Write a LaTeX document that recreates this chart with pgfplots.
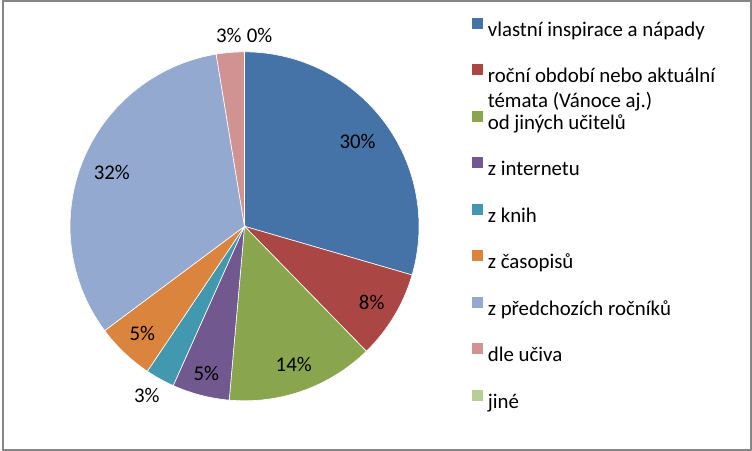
\documentclass[border=0pt]{standalone}
\usepackage{pgfplots}
\pgfplotsset{compat=1.18}
\usepackage{pgfplotstable}
\usepackage{fontspec}
\setmainfont{Carlito}

\definecolor{slice0}{HTML}{4572A7}
\definecolor{slice1}{HTML}{AA4643}
\definecolor{slice2}{HTML}{89A54E}
\definecolor{slice3}{HTML}{71588F}
\definecolor{slice4}{HTML}{4198AF}
\definecolor{slice5}{HTML}{DB843D}
\definecolor{slice6}{HTML}{93A9CF}
\definecolor{slice7}{HTML}{D19392}
\definecolor{slice8}{HTML}{B9CD96}
\definecolor{framegray}{HTML}{868686}

\newcommand\LE[1]{\raisebox{0pt}[15bp][5bp]{#1}}

% val = share in percent, lab = printed label, lr = label radius, da = label angle shift
\pgfplotstableread{
val  lab lr   da
29.5 30  0.81 0
8.2  8   0.85 0
13.7 14  0.84 0
5.3  5   0.87 0
2.7  3   1.12 -1
5.4  5   0.85 0
32.6 32  0.82 0
2.6  3   1.10 0
0    0   1.10 -4.5
}\piedata

\begin{document}
\def\startang{90}
\pgfplotsforeachungrouped \i in {0,...,8}{%
  \pgfplotstablegetelem{\i}{val}\of\piedata \let\v\pgfplotsretval
  \pgfplotstablegetelem{\i}{lab}\of\piedata \let\lb\pgfplotsretval
  \pgfplotstablegetelem{\i}{lr}\of\piedata \let\lr\pgfplotsretval
  \pgfplotstablegetelem{\i}{da}\of\piedata \let\da\pgfplotsretval
  \pgfmathsetmacro\endang{\startang-3.6*\v}%
  \pgfmathsetmacro\midang{(\startang+\endang)/2+\da}%
  \pgfmathsetmacro\lx{\lr*cos(\midang)}%
  \pgfmathsetmacro\ly{\lr*sin(\midang)}%
  \expandafter\xdef\csname sa\i\endcsname{\startang}%
  \expandafter\xdef\csname ea\i\endcsname{\endang}%
  \expandafter\xdef\csname lx\i\endcsname{\lx}%
  \expandafter\xdef\csname ly\i\endcsname{\ly}%
  \expandafter\xdef\csname lab\i\endcsname{\lb}%
  \global\let\startang\endang
}%
\begin{tikzpicture}
\path[use as bounding box] (0,0) rectangle (752bp,452bp);
\fill[white] (0,0) rectangle (752bp,452bp);
\draw[framegray, line width=2bp] (1bp,1bp) rectangle (751bp,451bp);
\begin{axis}[
  at={(243bp,225bp)}, anchor=origin,
  scale only axis, width=350bp, height=350bp,
  xmin=-1, xmax=1, ymin=-1, ymax=1,
  hide axis, clip=false,
  legend cell align=left,
  legend image code/.code={\fill[#1,draw=none] (0bp,1bp) rectangle (11bp,12bp);},
  legend style={at={(axis cs:1.303,1.196)}, anchor=north west,
    draw=none, fill=none, inner sep=0pt, outer sep=0pt,
    row sep=26.4bp, column sep=5bp,
    nodes={inner sep=0pt},
    font=\fontsize{21}{25}\selectfont},
]
\pgfplotsinvokeforeach{0,...,7}{
  \addplot[fill=slice#1, draw=white, line width=0.6bp,
    domain=\csname ea#1\endcsname:\csname sa#1\endcsname, samples=80]
    ({cos(x)},{sin(x)}) -- (axis cs:0,0) -- cycle;
}
\addlegendimage{fill=slice8}
\legend{\LE{vlastní inspirace a nápady},
  {\LE{\begin{tabular}[t]{@{}l@{}}roční období nebo aktuální\\témata (Vánoce aj.)\end{tabular}}},
  \LE{od jiných učitelů}, \LE{z internetu}, \LE{z knih}, \LE{z časopisů},
  \LE{z předchozích ročníků}, \LE{dle učiva}, \LE{jiné}}
\pgfplotsinvokeforeach{0,...,8}{
  \node[font=\fontsize{21}{25}\selectfont, inner sep=0pt] at (axis cs:\csname lx#1\endcsname,\csname ly#1\endcsname) {\csname lab#1\endcsname\%};
}
\end{axis}
\end{tikzpicture}
\end{document}
